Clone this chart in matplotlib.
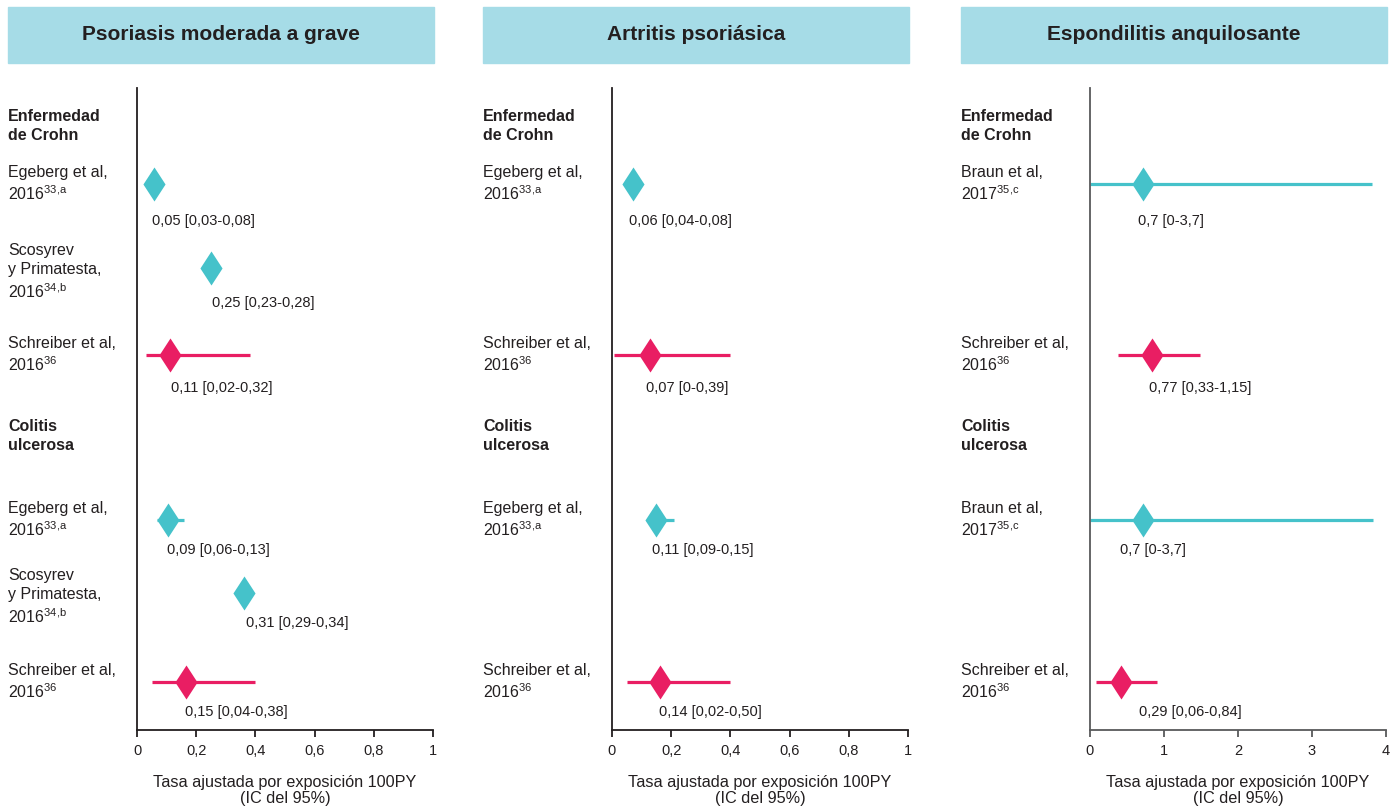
import matplotlib
matplotlib.use("Agg")
import matplotlib.pyplot as plt
from matplotlib.patches import Rectangle

plt.rcParams['font.family'] = ['Liberation Sans', 'DejaVu Sans']
plt.rcParams['mathtext.fontset'] = 'custom'
plt.rcParams['mathtext.rm'] = 'Liberation Sans'
plt.rcParams['mathtext.it'] = 'Liberation Sans'

# -------------------------
# Data
# -------------------------
panel_titles = ["Psoriasis moderada a grave", "Artritis psoriásica", "Espondilitis anquilosante"]
group_labels = ["Enfermedad\nde Crohn", "Colitis\nulcerosa"]

# panel 1: psoriasis
pso_studies = ["Egeberg et al,\n2016$^{33{,}a}$", "Scosyrev\ny Primatesta,\n2016$^{34{,}b}$",
               "Schreiber et al,\n2016$^{36}$",
               "Egeberg et al,\n2016$^{33{,}a}$", "Scosyrev\ny Primatesta,\n2016$^{34{,}b}$",
               "Schreiber et al,\n2016$^{36}$"]
pso_est = [0.059, 0.249, 0.111, 0.104, 0.363, 0.164]
pso_lo = [0.059, 0.249, 0.030, 0.066, 0.363, 0.050]
pso_hi = [0.059, 0.249, 0.382, 0.160, 0.363, 0.399]
pso_src = ["ext", "ext", "sch", "ext", "ext", "sch"]
pso_text = ["0,05 [0,03-0,08]", "0,25 [0,23-0,28]", "0,11 [0,02-0,32]",
            "0,09 [0,06-0,13]", "0,31 [0,29-0,34]", "0,15 [0,04-0,38]"]

# panel 2: artritis psoriasica (no Scosyrev rows)
apso_studies = ["Egeberg et al,\n2016$^{33{,}a}$", None, "Schreiber et al,\n2016$^{36}$",
                "Egeberg et al,\n2016$^{33{,}a}$", None, "Schreiber et al,\n2016$^{36}$"]
apso_est = [0.070, None, 0.127, 0.149, None, 0.163]
apso_lo = [0.070, None, 0.006, 0.120, None, 0.049]
apso_hi = [0.070, None, 0.398, 0.208, None, 0.398]
apso_src = ["ext", None, "sch", "ext", None, "sch"]
apso_text = ["0,06 [0,04-0,08]", None, "0,07 [0-0,39]",
             "0,11 [0,09-0,15]", None, "0,14 [0,02-0,50]"]

# panel 3: espondilitis anquilosante
ea_studies = ["Braun et al,\n2017$^{35{,}c}$", None, "Schreiber et al,\n2016$^{36}$",
              "Braun et al,\n2017$^{35{,}c}$", None, "Schreiber et al,\n2016$^{36}$"]
ea_est = [0.716, None, 0.842, 0.720, None, 0.415]
ea_lo = [0.0, None, 0.383, 0.0, None, 0.080]
ea_hi = [3.81, None, 1.486, 3.82, None, 0.900]
ea_src = ["ext", None, "sch", "ext", None, "sch"]
ea_text = ["0,7 [0-3,7]", None, "0,77 [0,33-1,15]",
           "0,7 [0-3,7]", None, "0,29 [0,06-0,84]"]

x_ticks_small = [0, 0.2, 0.4, 0.6, 0.8, 1]
x_ticklabels_small = ["0", "0,2", "0,4", "0,6", "0,8", "1"]
x_ticks_big = [0, 1, 2, 3, 4]
x_ticklabels_big = ["0", "1", "2", "3", "4"]
xlabel = "Tasa ajustada por exposición 100PY\n(IC del 95%)"

# -------------------------
# Layout (pixels of the 1397x809 canvas)
# -------------------------
W, H = 1397, 809
row_y = [184, 268, 355, 520, 593, 682]
row_text_dy = [0, 4, 0, 0, 4, 0]
group_y = [126, 436]
label_dy = [37, 35, 33, 30, 30, 30]
panel_ax_left = [137, 612, 1090]
panel_ax_w = 296
panel_text_x = [8, 483, 961]
panel_box = [(8, 434), (483, 909), (961, 1387)]
ax_top, ax_bottom = 88, 730

colors = {"ext": "#45C2CA", "sch": "#E91E63"}
text_col = "#231F20"
header_col = "#A6DCE7"

panels = [
    (pso_studies, pso_est, pso_lo, pso_hi, pso_src, pso_text, 1, x_ticks_small, x_ticklabels_small, "#231F20",
     [-2, 1, 1, -1, 2, -1]),
    (apso_studies, apso_est, apso_lo, apso_hi, apso_src, apso_text, 1, x_ticks_small, x_ticklabels_small, "#231F20",
     [-4, 0, -4, -4, 0, -1]),
    (ea_studies, ea_est, ea_lo, ea_hi, ea_src, ea_text, 4, x_ticks_big, x_ticklabels_big, "#58595B",
     [-5, 0, -3, -23, 0, 18]),
]

diamond = [(0, 1), (0.65, 0), (0, -1), (-0.65, 0), (0, 1)]

fig = plt.figure(figsize=(W / 100, H / 100), dpi=100)

for p, (studies, est, lo, hi, src, txt, xmax, ticks, ticklabels, spine_col, ldx) in enumerate(panels):
    # header band
    x0, x1 = panel_box[p]
    fig.patches.append(Rectangle((x0 / W, 1 - 63 / H), (x1 - x0) / W, 56 / H,
                                 transform=fig.transFigure, color=header_col, zorder=0))
    fig.text((x0 + x1) / 2 / W, 1 - 35 / H, panel_titles[p], ha="center", va="center",
             fontsize=15, fontweight="bold", color=text_col)

    ax = fig.add_axes([panel_ax_left[p] / W, 1 - ax_bottom / H,
                       panel_ax_w / W, (ax_bottom - ax_top) / H])
    ax.set_xlim(0, xmax)
    ax.set_ylim(ax_bottom, ax_top)
    ax.spines[["top", "right"]].set_visible(False)
    for s in ["left", "bottom"]:
        ax.spines[s].set_color(spine_col)
        ax.spines[s].set_linewidth(1.3)
    ax.set_yticks([])
    ax.set_xticks(ticks)
    ax.set_xticklabels(ticklabels)
    ax.tick_params(axis="x", length=5, width=1.3, color=spine_col, labelsize=10.5,
                   labelcolor=text_col, pad=5)
    ax.set_xlabel(xlabel, fontsize=11.7, color=text_col, labelpad=12, linespacing=1.15)

    tx = (panel_text_x[p] - panel_ax_left[p]) / panel_ax_w
    trans = ax.get_yaxis_transform()
    for g, gy in enumerate(group_y):
        ax.text(tx, gy, group_labels[g], transform=trans, ha="left", va="center",
                fontsize=11.5, fontweight="bold", color=text_col, linespacing=1.4, clip_on=False)

    for i in range(len(studies)):
        if studies[i] is None:
            continue
        ax.text(tx, row_y[i] + row_text_dy[i], studies[i], transform=trans, ha="left", va="center",
                fontsize=11.5, color=text_col, linespacing=1.3, clip_on=False)
        c = colors[src[i]]
        ax.plot([lo[i], hi[i]], [row_y[i], row_y[i]], color=c, lw=2.3, solid_capstyle="butt",
                clip_on=False, zorder=2)
        ax.plot(est[i], row_y[i], marker=diamond, markersize=24.5, color=c, mec="none",
                clip_on=False, zorder=3)
        ax.annotate(txt[i], xy=(est[i], row_y[i]), xytext=(ldx[i], -label_dy[i]),
                    textcoords="offset pixels", ha="left", va="center",
                    fontsize=10.5, color=text_col)

fig.savefig("out.png", dpi=100)
